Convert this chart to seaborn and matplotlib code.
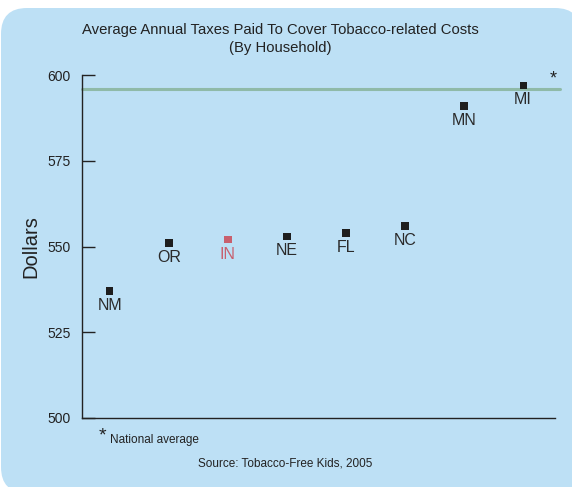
import numpy as np
import pandas as pd
import matplotlib.pyplot as plt
import seaborn as sns
from matplotlib.patches import FancyBboxPatch

# values
states = ["NM", "OR", "IN", "NE", "FL", "NC", "MN", "MI"]
taxes = [537, 551, 552, 553, 554, 556, 591, 597]
national_avg = 596
highlight = "IN"

df = pd.DataFrame({"state": states, "taxes": taxes, "pos": range(len(states))})
df["group"] = np.where(df["state"] == highlight, "hi", "other")

sns.set_style("white")
plt.rcParams["font.family"] = ["Liberation Sans", "DejaVu Sans"]

fig = plt.figure(figsize=(5.72, 4.87), dpi=100)
fig.patch.set_facecolor("white")

# rounded blue panel behind everything (inch units so corners stay round)
panel = FancyBboxPatch((0.01, -0.06), 5.8, 4.85,
                       boxstyle="round,pad=0,rounding_size=0.26",
                       transform=fig.dpi_scale_trans, facecolor="#bde0f5",
                       edgecolor="none", zorder=-5)
fig.patches.append(panel)

ax = fig.add_axes([0.1434, 0.1417, 0.827, 0.704])
ax.set_facecolor("none")
ax.set_zorder(2)

ax.axhline(national_avg, color="#8fbaa8", lw=2.2, xmin=0, xmax=1.01, clip_on=False, zorder=1)

colors = {"other": "#1e1e1e", "hi": "#c8606e"}
sns.scatterplot(data=df, x="pos", y="taxes", hue="group", palette=colors,
                marker="s", s=28, linewidth=0, legend=False, ax=ax, zorder=3)

for _, r in df.iterrows():
    c = "#c8606e" if r["state"] == highlight else "#2a2a2a"
    ax.annotate(r["state"], (r["pos"], r["taxes"]), xytext=(0, -5),
                textcoords="offset points", ha="center", va="top",
                fontsize=11.5, color=c)

ax.set_xlim(-0.47, 7.54)
ax.set_ylim(500, 600)
ax.set_yticks([500, 525, 550, 575, 600])
ax.set_xticks([])
ax.tick_params(axis="y", direction="in", length=9, width=1, color="#222222",
               labelsize=10, labelcolor="#222222", left=True, pad=8)
for s in ["top", "right"]:
    ax.spines[s].set_visible(False)
for s in ["left", "bottom"]:
    ax.spines[s].set_color("#222222")
    ax.spines[s].set_linewidth(1)
ax.set_xlabel("")
ax.set_ylabel("Dollars", fontsize=14.5, color="#222222", labelpad=5)

fig.text(0.49, 0.952, "Average Annual Taxes Paid To Cover Tobacco-related Costs\n(By Household)",
         ha="center", va="top", fontsize=10.7, color="#222222", linespacing=1.3)
fig.text(0.967, 0.838, "*", ha="center", va="center", fontsize=13, color="#222222")
fig.text(0.172, 0.105, "*", ha="left", va="center", fontsize=14, color="#222222")
fig.text(0.192, 0.096, "National average", ha="left", va="center", fontsize=8.5, color="#222222")
fig.text(0.498, 0.048, "Source: Tobacco-Free Kids, 2005", ha="center", va="center",
         fontsize=8.5, color="#222222")

plt.savefig("out.png", dpi=100)
